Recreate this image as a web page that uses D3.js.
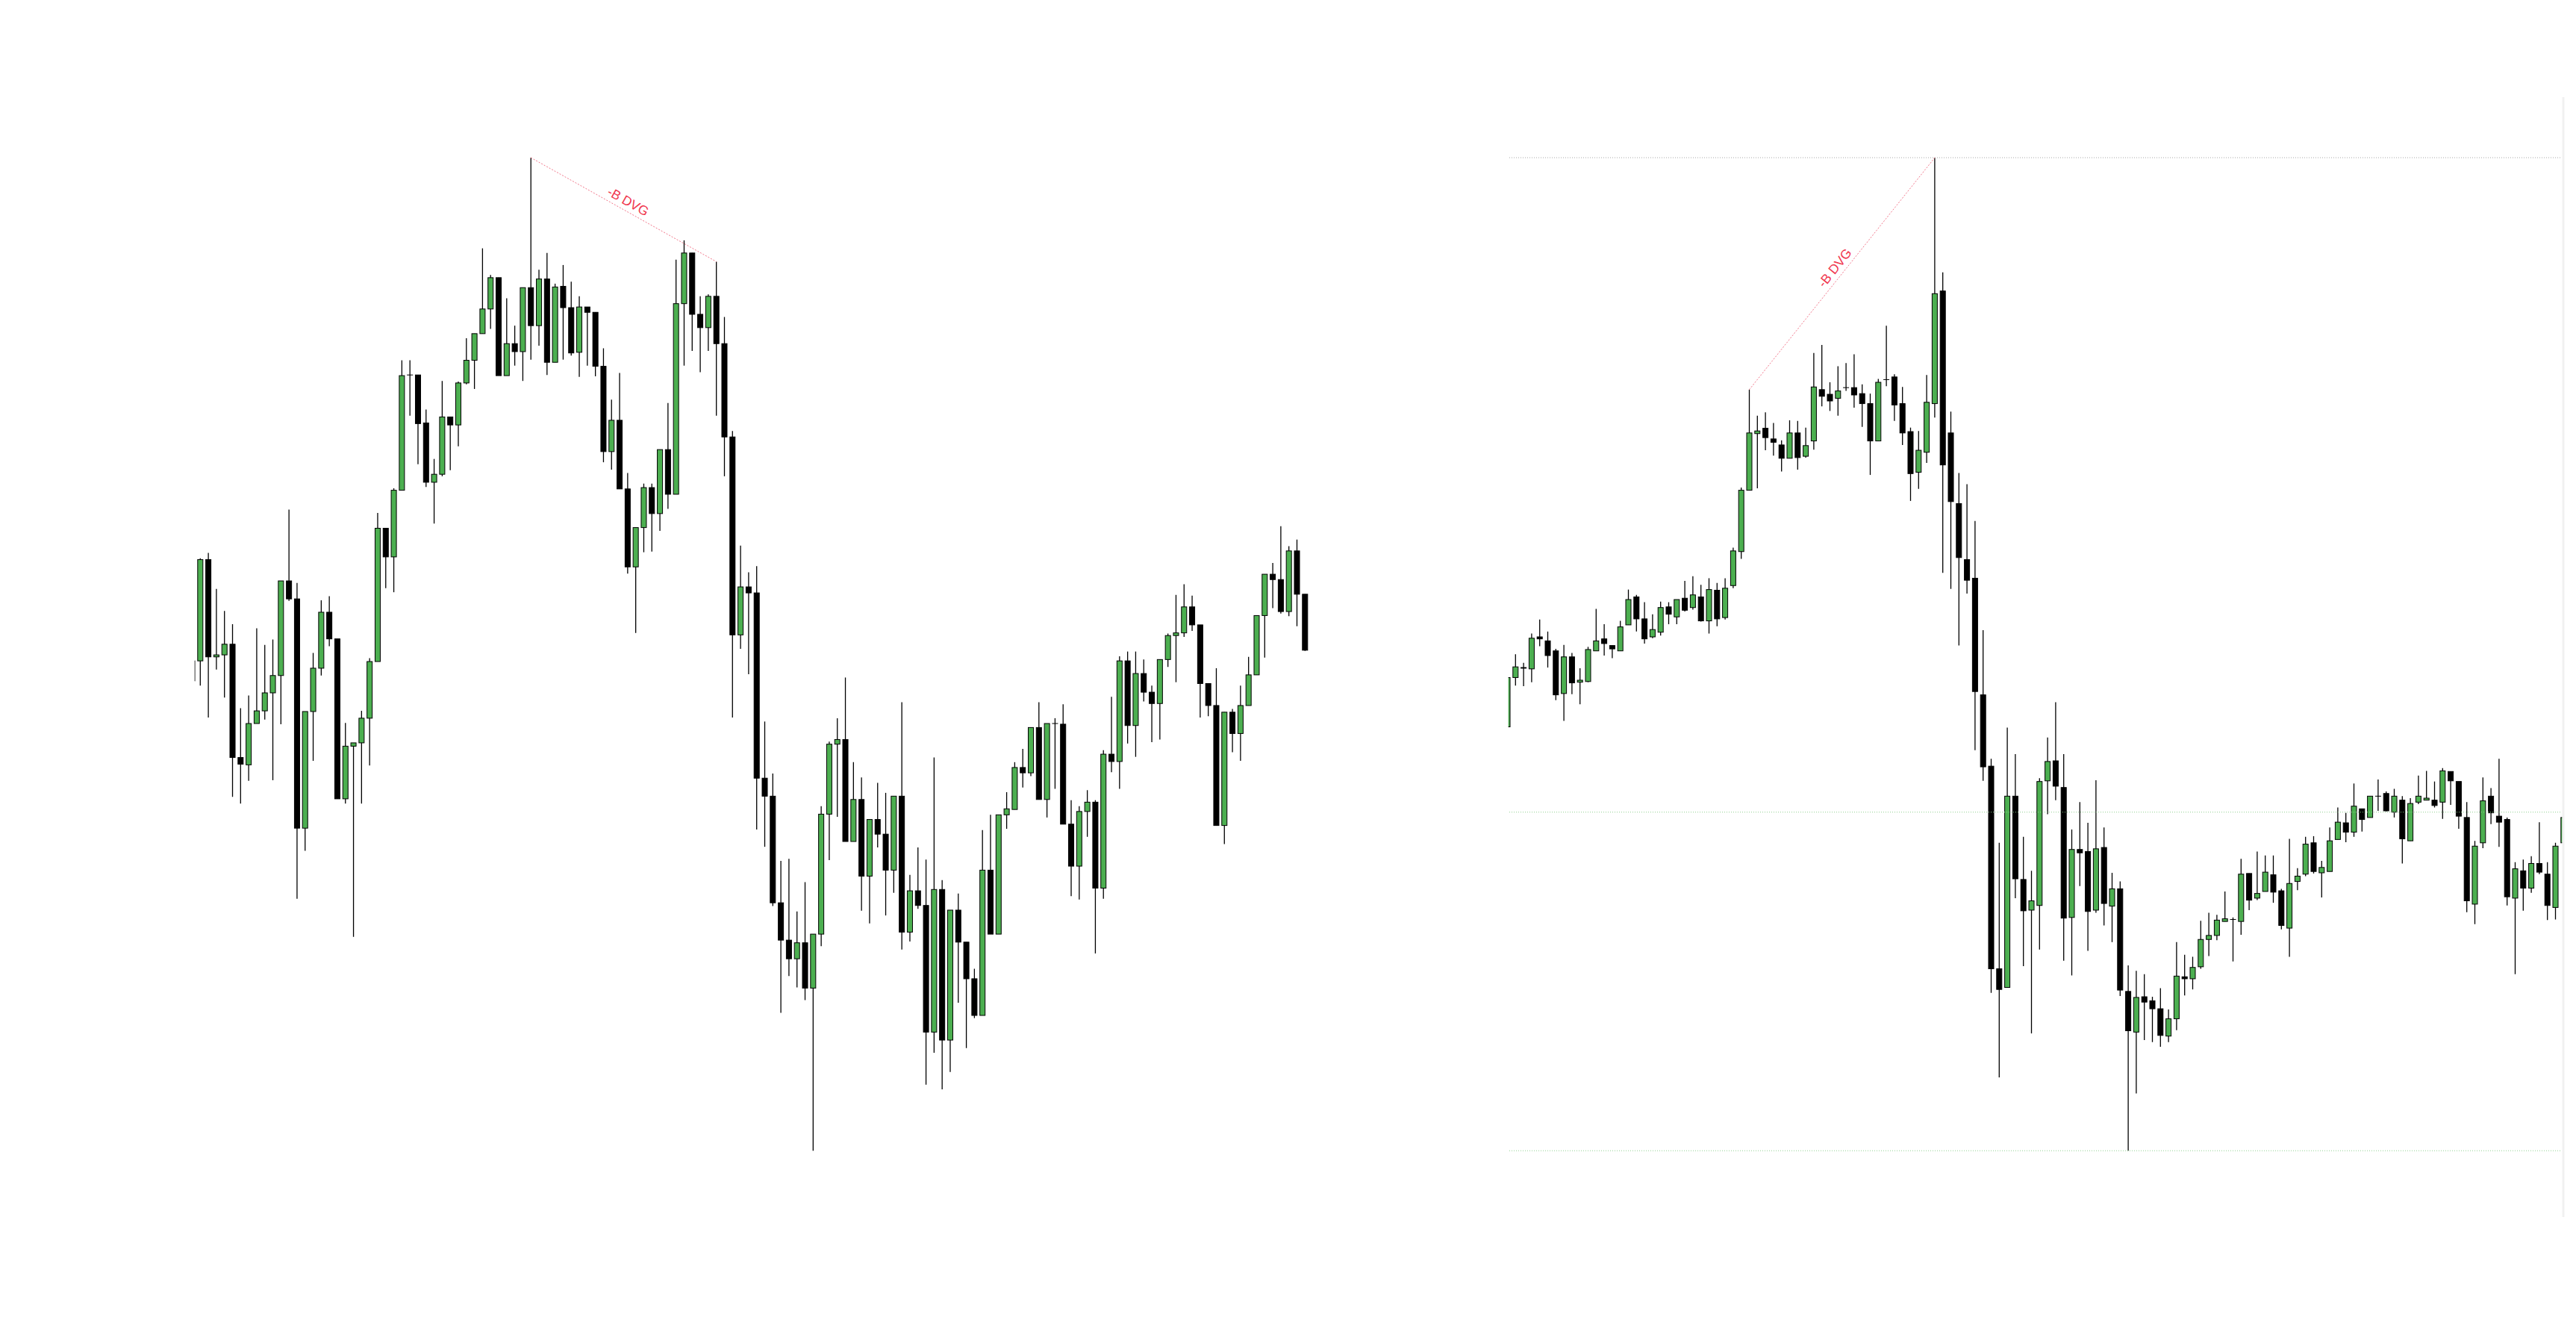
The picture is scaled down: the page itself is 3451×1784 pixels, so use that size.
<!DOCTYPE html>
<html><head><meta charset="utf-8">
<script src="https://cdn.jsdelivr.net/npm/d3@7"></script>
<style>html,body{margin:0;padding:0;background:#fff;} svg{display:block}</style>
</head><body>
<svg id="c" width="3451" height="1784"></svg>
<script>
// ---------- LEFT PANEL DATA (price units, arbitrary) ----------
const leftOpen  = [810,810,962,816,819,835,665,654,716,735,762,788,930,903,559,734,799,883,843,603,682,687,724,809,1009,966,1066,1239,1239,1167,1078,1090,1176,1164,1227,1261,1301,1338,1385,1238,1286,1274,1370,1313,1383,1258,1372,1340,1273,1341,1333,1252,1124,1171,1068,951,1010,1070,1031,1127,1060,1346,1422,1330,1310,1357,1286,1146,849,921,912,634,607,447,391,363,387,319,400,580,685,692,539,602,487,572,550,496,607,403,465,443,253,467,241,436,388,333,278,496,400,579,587,650,642,710,602,716,715,565,502,584,598,469,670,659,810,713,791,763,746,812,848,852,891,864,776,743,563,733,701,743,789,878,940,932,884,975,910];
const leftHigh  = [810,964,972,918,885,865,739,758,859,834,842,930,1037,927,734,822,901,907,843,717,687,735,814,1032,1009,1069,1261,1261,1239,1187,1113,1230,1176,1229,1294,1301,1429,1389,1385,1354,1313,1370,1565,1397,1422,1376,1404,1379,1357,1341,1333,1279,1202,1242,1092,1010,1076,1076,1127,1197,1412,1441,1422,1357,1360,1409,1326,1155,983,943,952,719,641,510,513,434,478,400,592,689,724,785,658,635,572,627,612,607,748,489,530,512,665,481,436,461,388,348,556,579,579,613,658,678,710,748,716,724,745,601,592,616,601,676,756,817,824,824,812,773,812,851,909,925,908,864,776,799,733,738,773,816,878,940,957,1012,982,992,910];
const leftLow   = [780,773,725,797,755,606,596,630,716,722,631,715,900,453,525,660,788,832,603,596,396,596,653,809,919,913,1066,1178,1105,1071,1016,1087,1096,1132,1225,1218,1301,1308,1238,1238,1253,1230,1262,1283,1239,1258,1262,1268,1236,1253,1237,1108,1097,1068,941,852,973,974,1005,1038,1060,1253,1275,1243,1275,1178,1087,725,828,790,557,531,442,282,337,320,301,75,382,511,576,539,539,435,416,530,428,462,377,389,438,174,222,167,193,297,229,274,278,400,400,558,587,620,637,602,575,618,565,457,452,546,371,453,643,618,686,666,749,688,692,801,778,846,855,725,727,563,535,673,660,743,789,815,889,881,877,862,825];
const leftClose = [780,962,816,819,835,665,655,716,735,762,788,930,903,559,734,799,883,843,603,682,687,724,809,1009,966,1066,1238,1239,1166,1078,1090,1176,1164,1227,1261,1301,1338,1385,1238,1286,1274,1370,1313,1383,1258,1371,1340,1272,1341,1333,1252,1124,1171,1068,951,1010,1070,1031,1127,1060,1346,1422,1330,1310,1357,1286,1146,849,921,912,634,607,447,391,363,387,319,400,580,685,692,539,602,487,572,550,496,607,403,465,443,253,467,241,436,388,333,278,496,400,579,588,650,642,710,602,716,716,565,502,584,598,469,670,659,810,713,791,763,746,812,848,852,891,864,776,743,563,733,701,743,789,878,940,932,884,975,910,826];

// ---------- RIGHT PANEL DATA ----------
const rightOpen  = [711,785,799,798,846,840,825,761,816,778,779,825,843,833,825,864,906,873,846,853,891,876,904,890,906,870,916,875,923,974,1066,1151,1159,1143,1134,1114,1152,1117,1140,1217,1210,1204,1220,1220,1211,1196,1140,1232,1236,1196,1154,1093,1123,1196,1365,1152,1046,962,934,759,652,348,320,607,482,436,443,630,660,620,425,527,524,436,530,442,468,314,253,306,300,288,247,273,336,333,351,392,398,419,422,419,491,454,464,489,465,409,479,490,537,492,494,542,567,553,588,575,607,611,583,601,540,598,601,601,598,644,629,575,445,537,607,577,572,454,495,469,506,490,440,537];
const rightHigh  = [785,820,807,851,872,854,828,834,822,799,831,888,865,833,870,917,909,898,880,899,898,902,930,937,924,934,927,934,980,1070,1217,1178,1183,1167,1141,1171,1170,1160,1272,1284,1228,1252,1257,1270,1225,1211,1233,1313,1240,1221,1160,1155,1239,1565,1393,1184,1092,1075,1020,856,663,537,710,670,546,495,634,695,748,670,557,598,567,631,560,492,479,353,345,340,306,319,287,388,369,366,420,432,429,464,425,513,491,524,518,518,468,543,499,546,547,510,560,590,582,626,588,607,632,614,618,607,604,638,645,629,649,644,629,598,540,635,619,663,575,508,512,517,568,508,537,575];
const rightLow   = [711,773,772,778,832,800,751,720,760,745,778,825,818,814,825,864,854,836,844,848,865,865,884,887,869,851,862,872,919,963,1066,1069,1126,1118,1094,1114,1097,1115,1127,1192,1185,1178,1215,1190,1161,1089,1140,1222,1170,1134,1050,1068,1107,1175,942,918,833,911,676,630,312,185,320,454,352,251,377,580,601,360,338,472,375,432,413,388,307,75,161,241,238,231,238,256,308,317,348,367,391,419,359,399,436,451,464,447,407,366,466,487,491,455,494,542,538,546,554,575,585,584,575,506,540,595,601,590,573,594,558,433,415,529,565,531,443,340,435,462,490,421,422,537];
const rightClose = [785,801,800,844,843,818,759,816,777,781,827,840,836,828,861,902,873,843,857,890,880,902,886,909,870,917,873,919,975,1066,1152,1155,1145,1138,1114,1152,1115,1133,1221,1207,1200,1215,1220,1209,1196,1140,1228,1232,1194,1152,1091,1126,1198,1361,1104,1049,965,931,764,651,348,317,607,483,435,450,629,659,622,424,527,522,434,528,446,468,316,255,305,298,288,248,273,337,333,350,392,398,421,423,422,490,451,461,493,463,413,476,487,535,494,500,540,568,553,592,572,607,607,585,607,543,596,607,604,593,645,630,577,450,532,600,582,568,456,498,469,506,493,443,532,575];
const rightLevels = [1565, 583, 75];
const rightLevelColors = ["#a8a8a8", "#8fd08f", "#8fd08f"];

// divergence annotations [fromIndex, toIndex]
const leftDvg = [42, 65];
const rightDvg = [30, 53];
const dvgLabel = "-B DVG";

const priceDomain = [75, 1565];

const svg = d3.select("#c");
const GREEN = "#4caf50";

function drawPanel(id, O, Hh, L, C, x0, x1, clipL, clipR) {
  const n = O.length;
  const x = d3.scaleLinear().domain([0, n - 1]).range([x0, x1]);
  const y = d3.scaleLinear().domain(priceDomain).range([1541.2, 211.2]);
  svg.append("clipPath").attr("id", "clip" + id)
    .append("rect").attr("x", clipL).attr("y", 0).attr("width", clipR - clipL).attr("height", 1784);
  const g = svg.append("g").attr("clip-path", `url(#clip${id})`);
  const idx = d3.range(n);
  g.selectAll("line.wick").data(idx).join("line")
    .attr("x1", i => x(i)).attr("x2", i => x(i))
    .attr("y1", i => y(Hh[i])).attr("y2", i => y(L[i]))
    .attr("stroke", "#000").attr("stroke-width", 1.3);
  g.selectAll("rect.body").data(idx).join("rect")
    .attr("x", i => x(i) - 3.5).attr("width", 7)
    .attr("y", i => y(Math.max(O[i], C[i])))
    .attr("height", i => Math.max(Math.abs(y(O[i]) - y(C[i])), 0.01))
    .attr("fill", i => C[i] > O[i] ? GREEN : "#000")
    .attr("stroke", "#000").attr("stroke-width", 1);
  return { x, y, g };
}

const Lp = drawPanel("L", leftOpen, leftHigh, leftLow, leftClose, 257.5, 1748.3, 260.8, 1800);
const Rp = drawPanel("R", rightOpen, rightHigh, rightLow, rightClose, 2019.5, 3434.3, 2020.7, 3432.6);

// right panel level lines
svg.selectAll("line.level").data(rightLevels).join("line")
  .attr("x1", 2022).attr("x2", 3431)
  .attr("y1", d => Rp.y(d)).attr("y2", d => Rp.y(d))
  .attr("stroke", (d, i) => rightLevelColors[i]).attr("stroke-width", 1)
  .attr("stroke-dasharray", "1,2");

// right border strip
svg.append("rect").attr("x", 3432.5).attr("y", 130).attr("width", 3).attr("height", 1500).attr("fill", "#f1f1f1");

// divergence lines + labels
function drawDvg(p, H, d) {
  const xa = p.x(d[0]), ya = p.y(H[d[0]]), xb = p.x(d[1]), yb = p.y(H[d[1]]);
  svg.append("line").attr("x1", xa).attr("y1", ya).attr("x2", xb).attr("y2", yb)
    .attr("stroke", "#f2768a").attr("stroke-width", 1).attr("stroke-dasharray", "2,2");
  const ang = Math.atan2(yb - ya, xb - xa) * 180 / Math.PI;
  svg.append("text")
    .attr("transform", `translate(${(xa + xb) / 2},${(ya + yb) / 2}) rotate(${ang})`)
    .attr("x", 0).attr("y", -6.5)
    .attr("text-anchor", "middle")
    .attr("font-family", "'Liberation Sans', Arial, sans-serif")
    .attr("font-size", 17.5)
    .attr("fill", "#f0384f")
    .text(dvgLabel);
}
drawDvg(Lp, leftHigh, leftDvg);
drawDvg(Rp, rightHigh, rightDvg);
</script>
</body></html>
